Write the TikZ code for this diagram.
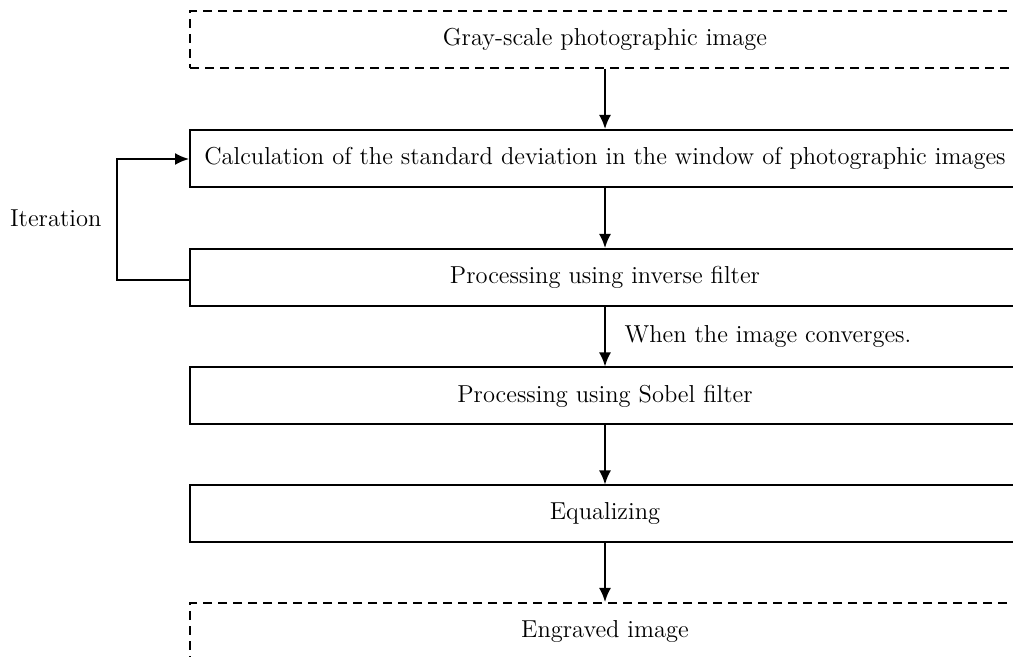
\documentclass[tikz,border=0pt]{standalone}
\usetikzlibrary{arrows.meta}
\begin{document}
\begin{tikzpicture}[x=0.5pt,y=-0.5pt,
  every node/.style={font=\fontsize{12.25}{14}\selectfont},
  box/.style={draw, line width=1pt, minimum width=415pt, minimum height=28.5pt, inner sep=0pt},
  dbox/.style={box, dash pattern=on 4.5pt off 3pt},
  arr/.style={-{Latex[length=7pt,width=6pt]}, line width=1pt}]
\useasboundingbox (0,0) rectangle (1013,657);
\node[dbox] (b1) at (605,39.5) {Gray-scale photographic image};
\node[box] (b2) at (605,158.5) {Calculation of the standard deviation in the window of photographic images};
\node[box] (b3) at (605,277.5) {Processing using inverse filter};
\node[box] (b4) at (605,396) {Processing using Sobel filter};
\node[box] (b5) at (605,514) {Equalizing};
\node[dbox] (b6) at (605,631.5) {Engraved image};
\draw[arr] (b1) -- (b2);
\draw[arr] (b2) -- (b3);
\draw[arr] (b3) -- node[right=6pt] {When the image converges.} (b4);
\draw[arr] (b4) -- (b5);
\draw[arr] (b5) -- (b6);
\coordinate (lb) at (117,280);
\coordinate (lt) at (117,159);
\draw[arr] (b3.west |- lb) -- (lb) -- (lt) -- (b2.west |- lt);
\node[anchor=west] (it) at (3,218) {Iteration};
\end{tikzpicture}
\end{document}
